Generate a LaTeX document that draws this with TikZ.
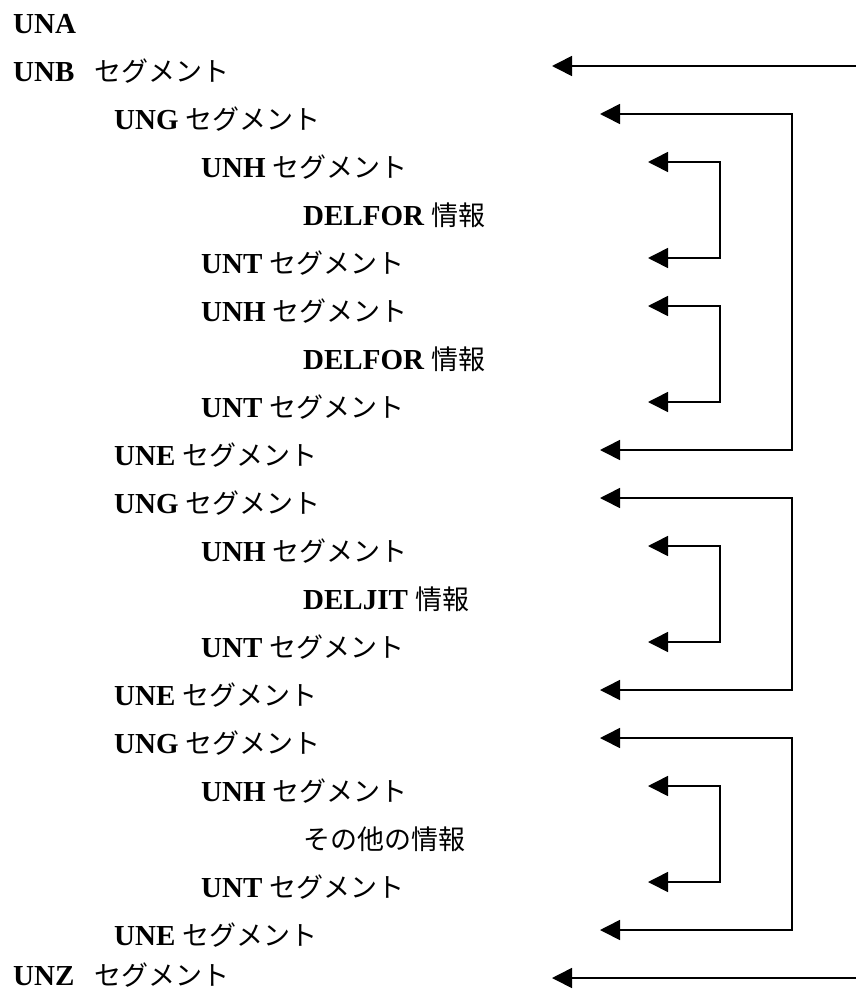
\documentclass[tikz,border=0pt]{standalone}
\usepackage{fontspec}
\setmainfont{Liberation Serif}
\newfontfamily\jpfont{Noto Sans CJK JP}
\usetikzlibrary{arrows.meta}
\newcommand{\seg}{{\mdseries\jpfont\fontsize{27}{32}\selectfont セグメント}}
\newcommand{\jinfo}[1]{{\mdseries\jpfont\fontsize{27}{32}\selectfont #1}}

\begin{document}
\begin{tikzpicture}[x=1pt,y=-1pt,font=\fontsize{29}{34}\selectfont\bfseries,
   t/.style={anchor=base west,inner sep=0pt},
   arr/.style={line width=1.6pt,
               {Triangle[length=20pt,width=20pt]}-{Triangle[length=20pt,width=20pt]}},
   one/.style={line width=1.6pt,-{Triangle[length=20pt,width=20pt]}}]
  \useasboundingbox (0,0) rectangle (856,993);
  % text column
  \node[t] (una)  at (13,33)    {UNA};
  \node[t] (unb)  at (13,81)    {UNB\hspace{20pt}\seg};
  \node[t] (ung1) at (114,129)  {UNG \seg};
  \node[t] (unh1) at (201,177)  {UNH \seg};
  \node[t] (del1) at (303,225)  {DELFOR \jinfo{情報}};
  \node[t] (unt1) at (201,273)  {UNT \seg};
  \node[t] (unh2) at (201,321)  {UNH \seg};
  \node[t] (del2) at (303,369)  {DELFOR \jinfo{情報}};
  \node[t] (unt2) at (201,417)  {UNT \seg};
  \node[t] (une1) at (114,465)  {UNE \seg};
  \node[t] (ung2) at (114,513)  {UNG \seg};
  \node[t] (unh3) at (201,561)  {UNH \seg};
  \node[t] (jit)  at (303,609)  {DELJIT \jinfo{情報}};
  \node[t] (unt3) at (201,657)  {UNT \seg};
  \node[t] (une2) at (114,705)  {UNE \seg};
  \node[t] (ung3) at (114,753)  {UNG \seg};
  \node[t] (unh4) at (201,801)  {UNH \seg};
  \node[t] (oth)  at (303,849)  {\jinfo{その他の情報}};
  \node[t] (unt4) at (201,897)  {UNT \seg};
  \node[t] (une3) at (114,945)  {UNE \seg};
  \node[t] (unz)  at (13,985)   {UNZ\hspace{20pt}\seg};
  % arrow rows and columns
  \foreach \n in {unb,ung1,unh1,unt1,unh2,unt2,une1,ung2,unh3,unt3,une2,ung3,unh4,unt4,une3}
    \coordinate (k\n) at ([yshift=15pt]\n.base);
  \coordinate (kunz) at ([yshift=7pt]unz.base);
  \coordinate (h0) at (552,0);
  \coordinate (e0) at (856,0);
  \coordinate (h1) at (600,0);
  \coordinate (v1) at (792,0);
  \coordinate (h2) at (648,0);
  \coordinate (v2) at (720,0);
  \draw[one] (kunb -| e0) -- (kunb -| h0);
  \draw[one] (kunz -| e0) -- (kunz -| h0);
  \foreach \a/\b in {ung1/une1,ung2/une2,ung3/une3}
    \draw[arr] (k\a -| h1) -- (k\a -| v1) -- (k\b -| v1) -- (k\b -| h1);
  \foreach \a/\b in {unh1/unt1,unh2/unt2,unh3/unt3,unh4/unt4}
    \draw[arr] (k\a -| h2) -- (k\a -| v2) -- (k\b -| v2) -- (k\b -| h2);
\end{tikzpicture}
\end{document}
